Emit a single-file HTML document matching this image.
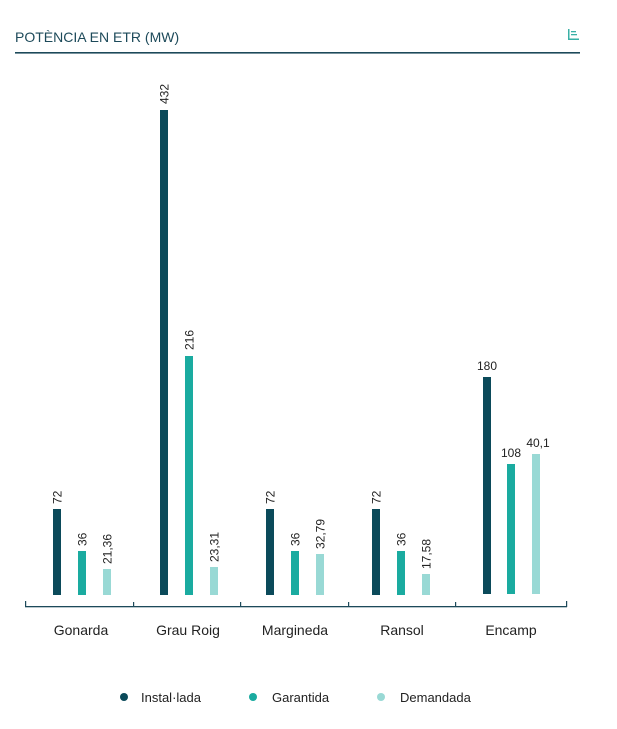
<!DOCTYPE html>
<html><head><meta charset="utf-8"><style>
html,body{margin:0;padding:0;background:#fff;}
svg{display:block;font-family:"Liberation Sans",sans-serif;}
</style></head><body>
<svg width="617" height="729" viewBox="0 0 617 729" xmlns="http://www.w3.org/2000/svg">
<text x="15" y="42" font-size="14" fill="#1d4a5a">POTÈNCIA EN ETR (MW)</text>
<g fill="#3ab0a6"><rect x="568" y="29" width="1.5" height="11"/><rect x="568" y="38.5" width="11" height="1.5"/><rect x="571" y="31" width="5" height="1.3"/><rect x="571" y="34" width="6" height="1.3"/></g>
<rect x="15" y="52" width="565" height="1.6" fill="#1d4a5a"/>
<g>
<rect x="53" y="509" width="8" height="86" fill="#0b4a5a"/>
<rect x="78" y="551" width="8" height="44" fill="#1aaba0"/>
<rect x="103" y="569" width="8" height="26" fill="#99d9d5"/>
<rect x="160" y="110" width="8" height="485" fill="#0b4a5a"/>
<rect x="185" y="356" width="8" height="239" fill="#1aaba0"/>
<rect x="210" y="567" width="8" height="28" fill="#99d9d5"/>
<rect x="266" y="509" width="8" height="86" fill="#0b4a5a"/>
<rect x="291" y="551" width="8" height="44" fill="#1aaba0"/>
<rect x="316" y="554" width="8" height="41" fill="#99d9d5"/>
<rect x="372" y="509" width="8" height="86" fill="#0b4a5a"/>
<rect x="397" y="551" width="8" height="44" fill="#1aaba0"/>
<rect x="422" y="574" width="8" height="21" fill="#99d9d5"/>
<rect x="483" y="377" width="8" height="217" fill="#0b4a5a"/>
<rect x="507" y="464" width="8" height="130" fill="#1aaba0"/>
<rect x="532" y="454" width="8" height="140" fill="#99d9d5"/>
</g>
<g font-size="12" fill="#222">
<text transform="translate(61.5,504) rotate(-90)">72</text>
<text transform="translate(86.5,546) rotate(-90)">36</text>
<text transform="translate(111.5,564) rotate(-90)">21,36</text>
<text transform="translate(168.5,104) rotate(-90)">432</text>
<text transform="translate(193.5,350) rotate(-90)">216</text>
<text transform="translate(218.5,562) rotate(-90)">23,31</text>
<text transform="translate(274.5,504) rotate(-90)">72</text>
<text transform="translate(299.5,546) rotate(-90)">36</text>
<text transform="translate(324.5,549) rotate(-90)">32,79</text>
<text transform="translate(380.5,504) rotate(-90)">72</text>
<text transform="translate(405.5,546) rotate(-90)">36</text>
<text transform="translate(430.5,569) rotate(-90)">17,58</text>
<text x="487" y="370" text-anchor="middle">180</text>
<text x="511" y="457" text-anchor="middle">108</text>
<text x="538" y="447" text-anchor="middle">40,1</text>
</g>
<g fill="#1d4a5a">
<rect x="25" y="606" width="542" height="1.3"/>
<rect x="25" y="601" width="1.2" height="6"/>
<rect x="133" y="602" width="1.2" height="5"/>
<rect x="240" y="602" width="1.2" height="5"/>
<rect x="348" y="602" width="1.2" height="5"/>
<rect x="455" y="602" width="1.2" height="5"/>
<rect x="566" y="601" width="1.2" height="6"/>
</g>
<g font-size="14" fill="#222" text-anchor="middle">
<text x="81" y="635">Gonarda</text>
<text x="188" y="635">Grau Roig</text>
<text x="295" y="635">Margineda</text>
<text x="402" y="635">Ransol</text>
<text x="511" y="635">Encamp</text>
</g>
<circle cx="124" cy="697" r="4" fill="#0b4a5a"/>
<circle cx="253" cy="697" r="4" fill="#1aaba0"/>
<circle cx="381" cy="697" r="4" fill="#99d9d5"/>
<g font-size="13" fill="#222">
<text x="141" y="702">Instal·lada</text>
<text x="272" y="702">Garantida</text>
<text x="400" y="702">Demandada</text>
</g>
</svg>
</body></html>
